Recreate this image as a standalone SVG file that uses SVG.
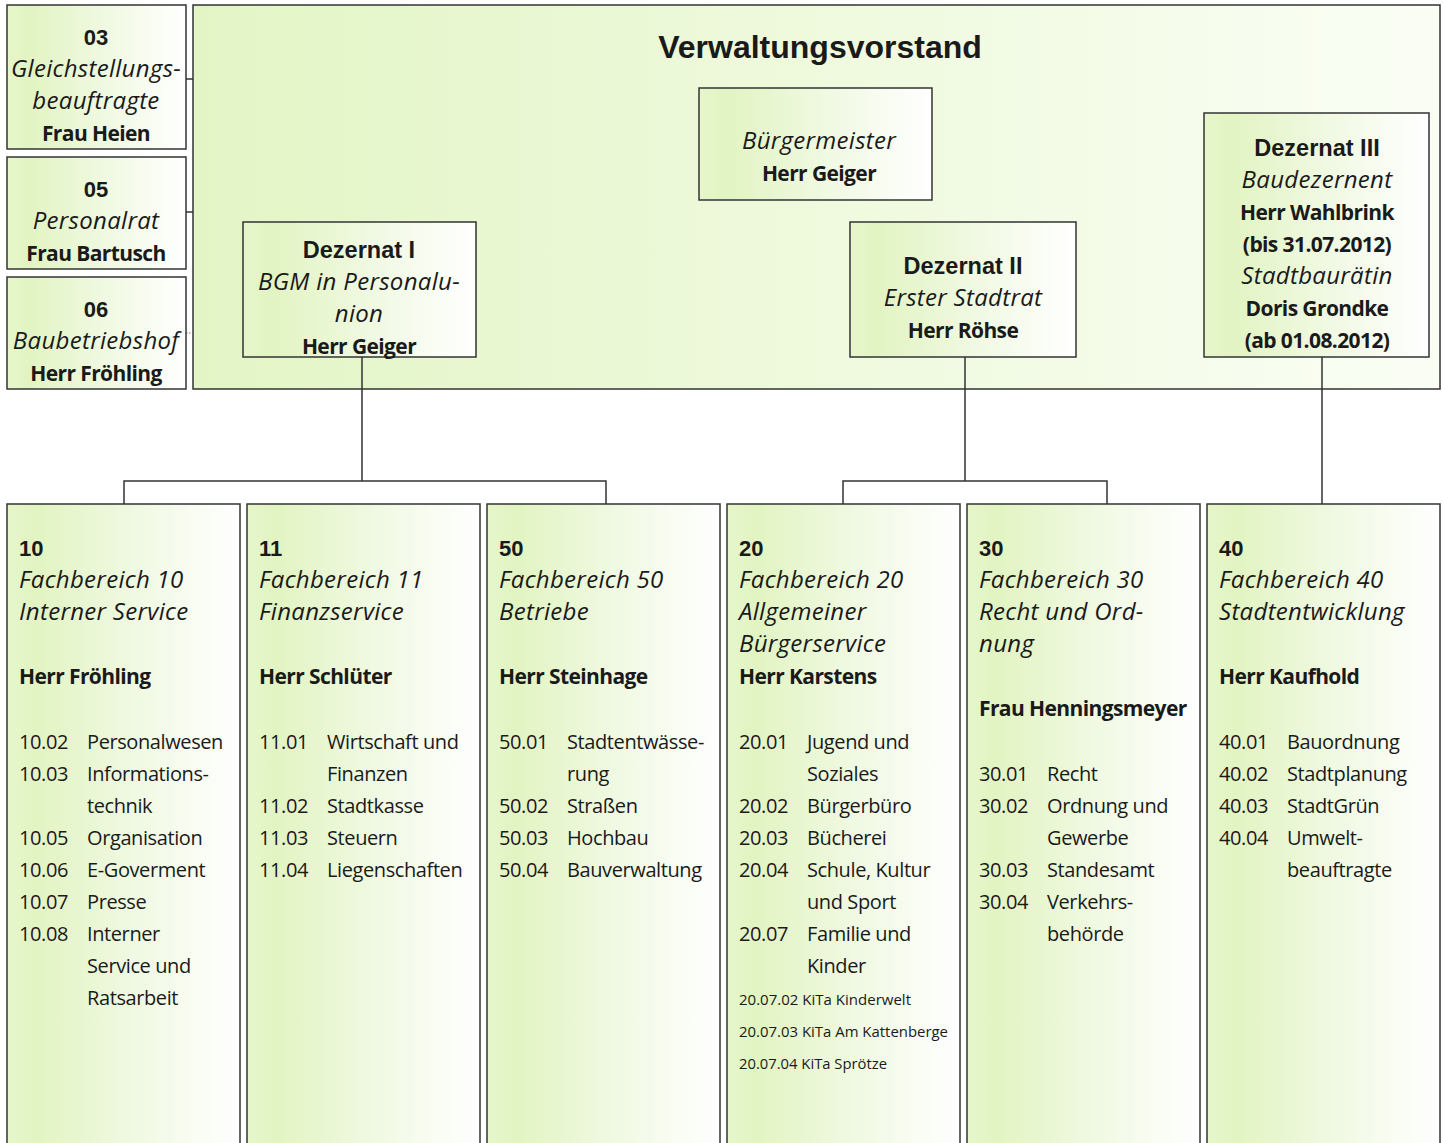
<svg xmlns="http://www.w3.org/2000/svg" width="1443" height="1143" viewBox="0 0 1443 1143">
<defs>
<linearGradient id="g" x1="0" y1="0" x2="1" y2="0">
<stop offset="0" stop-color="#e6f6cb"/>
<stop offset="0.12" stop-color="#e2f4c2"/>
<stop offset="0.55" stop-color="#f0f9e2"/>
<stop offset="1" stop-color="#ffffff"/>
</linearGradient>
<linearGradient id="gbig" x1="0" y1="0" x2="1" y2="0">
<stop offset="0" stop-color="#e3f5c5"/>
<stop offset="1" stop-color="#fafef5"/>
</linearGradient>
<style>
.box{fill:url(#g);stroke:#333;stroke-width:1.5}
.big{fill:url(#gbig);stroke:#333;stroke-width:1.5}
.ln{fill:none;stroke:#333;stroke-width:1.5}
.dot{fill:none;stroke:#777;stroke-width:1;stroke-dasharray:1.5 1.5}
text{font-family:"Open Sans","Noto Sans",sans-serif;fill:#1a1a1a;font-size:21px}
.c{text-anchor:middle}
.h{font-family:"Liberation Sans",Arial,sans-serif;font-weight:bold;font-size:23.5px}
.n{font-family:"Liberation Sans",Arial,sans-serif;font-weight:bold;font-size:22px}
.b{font-weight:bold;font-size:21px;letter-spacing:-0.6px}
.i{font-style:italic;font-size:24px;letter-spacing:0.3px}
.s{font-size:20px;letter-spacing:-0.4px}
.t{font-size:15px}
.title{font-family:"Liberation Sans",Arial,sans-serif;font-weight:bold;font-size:32px}
</style>
</defs>

<g id="vorstand">
<rect class="big" x="193" y="5" width="1247" height="384"/>
<text class="title c" x="820" y="58">Verwaltungsvorstand</text>
</g>

<g id="connectors">
<line class="ln" x1="186" y1="79" x2="193" y2="79"/>
<line class="ln" x1="186" y1="212" x2="193" y2="212"/>
<line class="dot" x1="186" y1="333" x2="193" y2="333"/>
<path class="ln" d="M362 357 V481 M124 504 V481 H606 V504"/>
<path class="ln" d="M965 357 V481 M843 504 V481 H1107 V504"/>
<path class="ln" d="M1322 357 V504"/>
</g>

<g id="n03">
<rect class="box" x="7" y="5" width="179" height="144"/>
<text class="n c" x="96" y="45">03</text>
<text class="i c" x="96" y="77">Gleichstellungs-</text>
<text class="i c" x="96" y="109">beauftragte</text>
<text class="b c" x="96" y="141">Frau Heien</text>
</g>
<g id="n05">
<rect class="box" x="7" y="157" width="179" height="112"/>
<text class="n c" x="96" y="197">05</text>
<text class="i c" x="96" y="229">Personalrat</text>
<text class="b c" x="96" y="261">Frau Bartusch</text>
</g>
<g id="n06">
<rect class="box" x="7" y="277" width="179" height="112"/>
<text class="n c" x="96" y="317">06</text>
<text class="i c" x="96" y="349">Baubetriebshof</text>
<text class="b c" x="96" y="381">Herr Fröhling</text>
</g>

<g id="bgm">
<rect class="box" x="699" y="88" width="233" height="112"/>
<text class="i c" x="819" y="149">Bürgermeister</text>
<text class="b c" x="819" y="181">Herr Geiger</text>
</g>

<g id="dez1">
<rect class="box" x="243" y="222" width="233" height="135"/>
<text class="h c" x="359" y="258">Dezernat I</text>
<text class="i c" x="359" y="290">BGM in Personalu-</text>
<text class="i c" x="359" y="322">nion</text>
<text class="b c" x="359" y="354">Herr Geiger</text>
</g>

<g id="dez2">
<rect class="box" x="850" y="222" width="226" height="135"/>
<text class="h c" x="963" y="274">Dezernat II</text>
<text class="i c" x="963" y="306">Erster Stadtrat</text>
<text class="b c" x="963" y="338">Herr Röhse</text>
</g>

<g id="dez3">
<rect class="box" x="1204" y="113" width="225" height="244"/>
<text class="h c" x="1317" y="156">Dezernat III</text>
<text class="i c" x="1317" y="188">Baudezernent</text>
<text class="b c" x="1317" y="220">Herr Wahlbrink</text>
<text class="b c" x="1317" y="252">(bis 31.07.2012)</text>
<text class="i c" x="1317" y="284">Stadtbaurätin</text>
<text class="b c" x="1317" y="316">Doris Grondke</text>
<text class="b c" x="1317" y="348">(ab 01.08.2012)</text>
</g>

<g id="fb10">
<rect class="box" x="7" y="504" width="233" height="660"/>
<text class="n" x="19" y="556">10</text>
<text class="i" x="19" y="588">Fachbereich 10</text>
<text class="i" x="19" y="620">Interner Service</text>
<text class="b" x="19" y="684">Herr Fröhling</text>
<text class="s" x="19" y="749">10.02</text><text class="s" x="87" y="749">Personalwesen</text>
<text class="s" x="19" y="781">10.03</text><text class="s" x="87" y="781">Informations-</text>
<text class="s" x="87" y="813">technik</text>
<text class="s" x="19" y="845">10.05</text><text class="s" x="87" y="845">Organisation</text>
<text class="s" x="19" y="877">10.06</text><text class="s" x="87" y="877">E-Goverment</text>
<text class="s" x="19" y="909">10.07</text><text class="s" x="87" y="909">Presse</text>
<text class="s" x="19" y="941">10.08</text><text class="s" x="87" y="941">Interner</text>
<text class="s" x="87" y="973">Service und</text>
<text class="s" x="87" y="1005">Ratsarbeit</text>
</g>

<g id="fb11">
<rect class="box" x="247" y="504" width="233" height="660"/>
<text class="n" x="259" y="556">11</text>
<text class="i" x="259" y="588">Fachbereich 11</text>
<text class="i" x="259" y="620">Finanzservice</text>
<text class="b" x="259" y="684">Herr Schlüter</text>
<text class="s" x="259" y="749">11.01</text><text class="s" x="327" y="749">Wirtschaft und</text>
<text class="s" x="327" y="781">Finanzen</text>
<text class="s" x="259" y="813">11.02</text><text class="s" x="327" y="813">Stadtkasse</text>
<text class="s" x="259" y="845">11.03</text><text class="s" x="327" y="845">Steuern</text>
<text class="s" x="259" y="877">11.04</text><text class="s" x="327" y="877">Liegenschaften</text>
</g>

<g id="fb50">
<rect class="box" x="487" y="504" width="233" height="660"/>
<text class="n" x="499" y="556">50</text>
<text class="i" x="499" y="588">Fachbereich 50</text>
<text class="i" x="499" y="620">Betriebe</text>
<text class="b" x="499" y="684">Herr Steinhage</text>
<text class="s" x="499" y="749">50.01</text><text class="s" x="567" y="749">Stadtentwässe-</text>
<text class="s" x="567" y="781">rung</text>
<text class="s" x="499" y="813">50.02</text><text class="s" x="567" y="813">Straßen</text>
<text class="s" x="499" y="845">50.03</text><text class="s" x="567" y="845">Hochbau</text>
<text class="s" x="499" y="877">50.04</text><text class="s" x="567" y="877">Bauverwaltung</text>
</g>

<g id="fb20">
<rect class="box" x="727" y="504" width="233" height="660"/>
<text class="n" x="739" y="556">20</text>
<text class="i" x="739" y="588">Fachbereich 20</text>
<text class="i" x="739" y="620">Allgemeiner</text>
<text class="i" x="739" y="652">Bürgerservice</text>
<text class="b" x="739" y="684">Herr Karstens</text>
<text class="s" x="739" y="749">20.01</text><text class="s" x="807" y="749">Jugend und</text>
<text class="s" x="807" y="781">Soziales</text>
<text class="s" x="739" y="813">20.02</text><text class="s" x="807" y="813">Bürgerbüro</text>
<text class="s" x="739" y="845">20.03</text><text class="s" x="807" y="845">Bücherei</text>
<text class="s" x="739" y="877">20.04</text><text class="s" x="807" y="877">Schule, Kultur</text>
<text class="s" x="807" y="909">und Sport</text>
<text class="s" x="739" y="941">20.07</text><text class="s" x="807" y="941">Familie und</text>
<text class="s" x="807" y="973">Kinder</text>
<text class="t" x="739" y="1005" textLength="172" lengthAdjust="spacingAndGlyphs">20.07.02 KiTa Kinderwelt</text>
<text class="t" x="739" y="1037" textLength="209" lengthAdjust="spacingAndGlyphs">20.07.03 KiTa Am Kattenberge</text>
<text class="t" x="739" y="1069" textLength="148" lengthAdjust="spacingAndGlyphs">20.07.04 KiTa Sprötze</text>
</g>

<g id="fb30">
<rect class="box" x="967" y="504" width="233" height="660"/>
<text class="n" x="979" y="556">30</text>
<text class="i" x="979" y="588">Fachbereich 30</text>
<text class="i" x="979" y="620">Recht und Ord-</text>
<text class="i" x="979" y="652">nung</text>
<text class="b" x="979" y="716">Frau Henningsmeyer</text>
<text class="s" x="979" y="781">30.01</text><text class="s" x="1047" y="781">Recht</text>
<text class="s" x="979" y="813">30.02</text><text class="s" x="1047" y="813">Ordnung und</text>
<text class="s" x="1047" y="845">Gewerbe</text>
<text class="s" x="979" y="877">30.03</text><text class="s" x="1047" y="877">Standesamt</text>
<text class="s" x="979" y="909">30.04</text><text class="s" x="1047" y="909">Verkehrs-</text>
<text class="s" x="1047" y="941">behörde</text>
</g>

<g id="fb40">
<rect class="box" x="1207" y="504" width="233" height="660"/>
<text class="n" x="1219" y="556">40</text>
<text class="i" x="1219" y="588">Fachbereich 40</text>
<text class="i" x="1219" y="620">Stadtentwicklung</text>
<text class="b" x="1219" y="684">Herr Kaufhold</text>
<text class="s" x="1219" y="749">40.01</text><text class="s" x="1287" y="749">Bauordnung</text>
<text class="s" x="1219" y="781">40.02</text><text class="s" x="1287" y="781">Stadtplanung</text>
<text class="s" x="1219" y="813">40.03</text><text class="s" x="1287" y="813">StadtGrün</text>
<text class="s" x="1219" y="845">40.04</text><text class="s" x="1287" y="845">Umwelt-</text>
<text class="s" x="1287" y="877">beauftragte</text>
</g>
</svg>
